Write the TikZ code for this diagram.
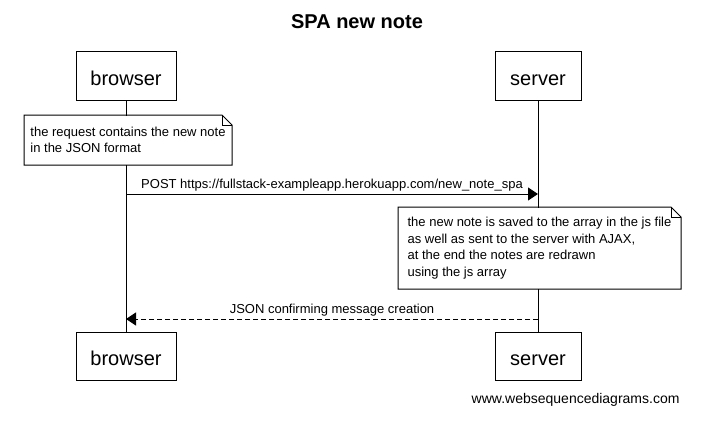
\documentclass[tikz,border=0pt]{standalone}
\usepackage{fontspec}
\setmainfont{Liberation Sans}
\usepackage{tikz}
\usetikzlibrary{arrows.meta}

\begin{document}
\begin{tikzpicture}[x=1pt,y=-1pt,line width=1pt,
    box/.style={draw,fill=white,minimum height=48,inner sep=0pt,
        text height=18pt,text depth=0pt,font=\fontsize{20}{24}\selectfont},
    note/.style={fill=white,anchor=north west,align=left,inner sep=0pt,
        font=\fontsize{13}{16.5}\selectfont},
    msg/.style={-{Triangle[length=10pt,width=13pt]}},
    lbl/.style={above,inner sep=2pt,font=\fontsize{13}{15}\selectfont}]
    \def\bx{126}
    \def\sx{538}
    \def\fold{10}

    \useasboundingbox (0,0) rectangle (714,420);
    \node[font=\bfseries\fontsize{20}{24}\selectfont] (title) at (357,22) {SPA new note};

    \foreach [count=\i] \name/\x/\w in {browser/\bx/100,server/\sx/86} {
        \node[box,minimum width=\w] (\name-top) at (\x,76) {\name};
        \node[box,minimum width=\w] (\name-bot) at (\x,356.5) {\name};
        \draw (\name-top) -- (\name-bot);
    }

    \newcommand{\drawnote}[6]{%
        \node[note,minimum width=#4,minimum height=#5] (#1) at (#2,#3) {#6};
        \draw (#1.north west) -- ([xshift=-\fold pt]#1.north east)
            -- ([yshift=-\fold pt]#1.north east) -- (#1.south east)
            -- (#1.south west) -- cycle;
        \draw ([xshift=-\fold pt]#1.north east) -- ++(0,\fold)
            -- ([yshift=-\fold pt]#1.north east);
    }
    \drawnote{reqnote}{24}{115}{207}{49}{the request contains the new note\\in the JSON format}

    \coordinate (post-from) at (\bx,194);
    \coordinate (post-to) at (\sx,194);
    \draw[msg] (post-from) -- node[lbl] (postlbl)
        {POST https://fullstack-exampleapp.herokuapp.com/new\_note\_spa} (post-to);

    \drawnote{savenote}{398}{207}{282}{81}{the new note is saved to the array in the js file\\as well as sent to the server with AJAX,\\at the end the notes are redrawn\\using the js array}

    \coordinate (json-from) at (\sx,319);
    \coordinate (json-to) at (\bx,319);
    \draw[msg,dash pattern=on 5pt off 3pt] (json-from) -- node[lbl] (jsonlbl)
        {JSON confirming message creation} (json-to);

    \node[anchor=east,inner sep=0pt,font=\fontsize{14}{16}\selectfont] (footer) at (680,400) {www.websequencediagrams.com};
\end{tikzpicture}
\end{document}
